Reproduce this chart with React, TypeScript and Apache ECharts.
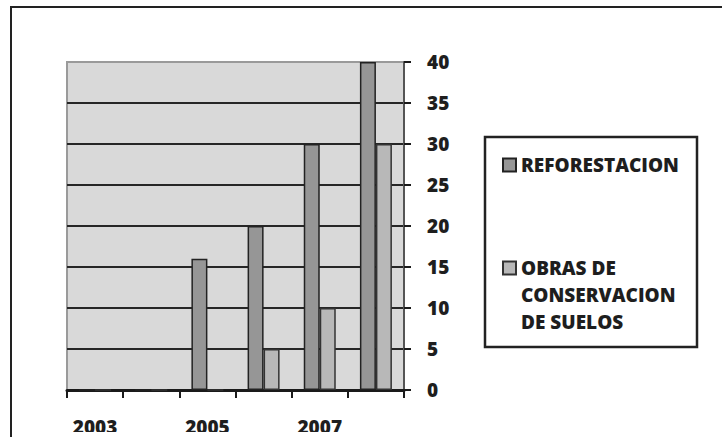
import React, { useEffect, useRef } from "react";
import * as echarts from "echarts";

const categories = ["2003", "2004", "2005", "2006", "2007", "2008"];
const reforestacion = [0, 0, 16, 20, 30, 40];
const obras = [0, 0, 0, 5, 10, 30];
const seriesNames = ["REFORESTACION", "OBRAS DE CONSERVACION DE SUELOS"];
const obrasLegendLines = ["OBRAS DE", "CONSERVACION", "DE SUELOS"];

const FONT = "Open Sans";
const TEXT = "#1e1e1e";

export default function App() {
  const ref = useRef<HTMLDivElement>(null);
  useEffect(() => {
    if (!ref.current) return;
    const chart = echarts.init(ref.current, null, { renderer: "svg" });
    const labelStyle = { fontSize: 19, fontWeight: 800, color: TEXT, fontFamily: FONT };
    const splitColors = ["#262626", "#262626", "#262626", "#262626", "#262626", "#262626", "#262626", "#262626", "#9a9a9a"];
    chart.setOption({
      animation: false,
      backgroundColor: "#ffffff",
      grid: {
        left: 67, right: 318, top: 62, bottom: 47,
        show: true, backgroundColor: "#d9d9d9", borderColor: "#9a9a9a", borderWidth: 2,
      },
      xAxis: {
        type: "category",
        data: categories,
        axisLine: { lineStyle: { color: "#1a1a1a", width: 3 } },
        axisTick: { show: true, interval: 0, length: 8, lineStyle: { color: "#1a1a1a", width: 2 } },
        axisLabel: { interval: 1, margin: 27, ...labelStyle },
      },
      yAxis: {
        type: "value",
        position: "right",
        min: 0, max: 40, interval: 5,
        axisLine: { show: true, lineStyle: { color: "#555", width: 2 } },
        axisTick: { show: true, length: 7, lineStyle: { color: "#1a1a1a", width: 2 } },
        axisLabel: { margin: 23, ...labelStyle },
        splitLine: { show: true, lineStyle: { color: splitColors, width: 2 } },
      },
      legend: [
        {
          data: [seriesNames[0]],
          left: 502, top: 155.5,
          padding: 0, itemGap: 0, itemWidth: 13, itemHeight: 13, icon: "rect",
          textStyle: { ...labelStyle },
        },
        {
          data: [seriesNames[1]],
          left: 502, top: 200.5,
          padding: 0, itemGap: 0, itemWidth: 13, itemHeight: 13, icon: "rect",
          formatter: () => "\n\n" + obrasLegendLines.join("\n"),
          textStyle: { ...labelStyle, lineHeight: 27 },
        },
      ],
      graphic: [
        { type: "rect", z: 100, shape: { x: 13, y: 432, width: 720, height: 10 }, style: { fill: "#ffffff" }, silent: true },
        { type: "rect", z: 101, shape: { x: 11, y: 7, width: 800, height: 500 }, style: { fill: "none", stroke: "#222", lineWidth: 2 }, silent: true },
        { type: "rect", shape: { x: 485, y: 137, width: 212, height: 210 }, style: { fill: "none", stroke: "#222", lineWidth: 2.5 }, silent: true },
      ],
      series: [
        {
          name: seriesNames[0], type: "bar", data: reforestacion,
          barWidth: 16, barGap: "0%",
          itemStyle: { color: "#969696", borderColor: "#222", borderWidth: 1.5 },
        },
        {
          name: seriesNames[1], type: "bar", data: obras,
          barWidth: 16, barGap: "0%",
          itemStyle: { color: "#b8b8b8", borderColor: "#333", borderWidth: 1.5 },
        },
      ],
    });
    return () => chart.dispose();
  }, []);
  return <div ref={ref} style={{ position: "absolute", left: 0, top: 0, width: 722, height: 437 }} />;
}
